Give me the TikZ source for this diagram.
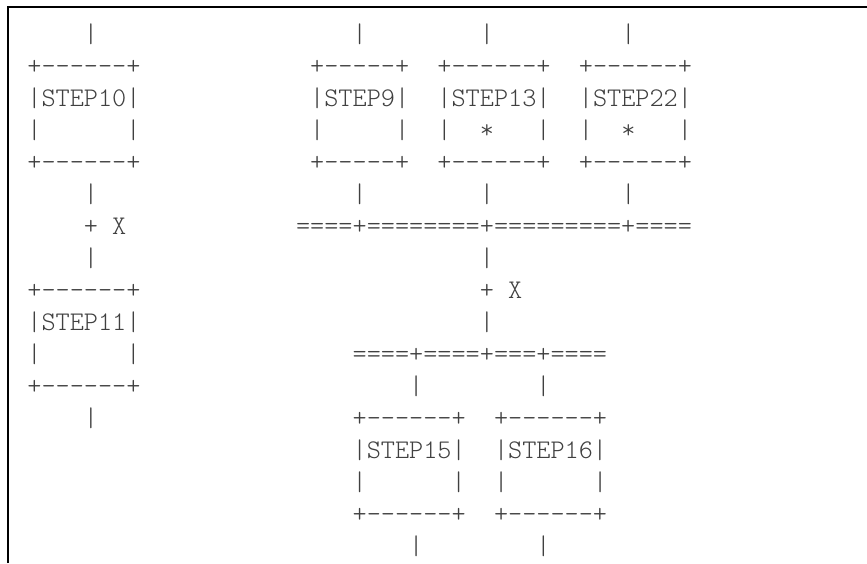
\documentclass[tikz,border=0pt]{standalone}
\usepackage{fontspec}
\newfontfamily\asciifont[Ligatures=TeXOff]{Latin Modern Mono Light}
\usepackage{tikz}

\begin{document}
\begin{tikzpicture}[
      x=1pt, y=-1pt,
      every node/.style = {inner sep=0pt, anchor=base west, text=black!75,
        font=\asciifont\fontsize{26.93}{30}\selectfont},
      frame/.style = {line width=2pt}
    ]
    \useasboundingbox (0,0) rectangle (867,563);
    \draw[frame] (8,563) -- (8,7) -- (867,7);
    % column/row/text of each piece of the sketch
    \foreach \c/\r/\t in {
        4/0/|, 23/0/|, 32/0/|, 42/0/|,
        0/1/+------+, 20/1/+-----+, 29/1/+------+, 39/1/+------+,
        0/2/|STEP10|, 20/2/|STEP9|, 29/2/|STEP13|, 39/2/|STEP22|,
        0/3/|, 7/3/|, 20/3/|, 26/3/|, 29/3/|, 32/3/*, 36/3/|, 39/3/|, 42/3/*, 46/3/|,
        0/4/+------+, 20/4/+-----+, 29/4/+------+, 39/4/+------+,
        4/5/|, 23/5/|, 32/5/|, 42/5/|,
        4/6/+, 6/6/X, 19/6/====+========+=========+====,
        4/7/|, 32/7/|,
        0/8/+------+, 32/8/+, 34/8/X,
        0/9/|STEP11|, 32/9/|,
        0/10/|, 7/10/|, 23/10/====+====+===+====,
        0/11/+------+, 27/11/|, 36/11/|,
        4/12/|, 23/12/+------+, 33/12/+------+,
        23/13/|STEP15|, 33/13/|STEP16|,
        23/14/|, 30/14/|, 33/14/|, 40/14/|,
        23/15/+------+, 33/15/+------+,
        27/16/|, 36/16/|}
      \node (n\r-\c) at ({27.2+14.14*\c},{42.7+32*\r}) {\t};
\end{tikzpicture}
\end{document}
